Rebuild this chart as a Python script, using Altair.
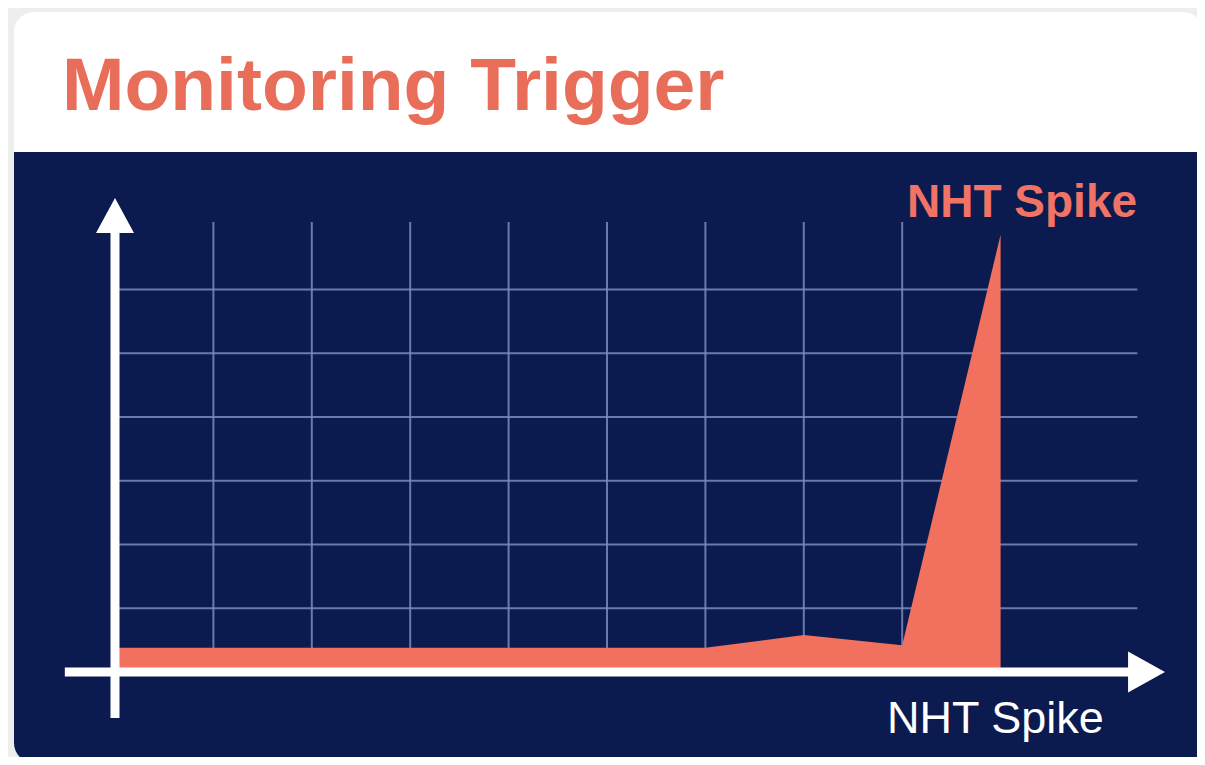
import altair as alt
import pandas as pd

# ---- data ----
steps = [0, 1, 2, 3, 4, 5, 6, 7, 8, 9, 9]
trigger = [0.38, 0.38, 0.38, 0.38, 0.38, 0.38, 0.38, 0.58, 0.42, 6.86, 0.0]
hgrid_levels = [1, 2, 3, 4, 5, 6]
vgrid_steps = [1, 2, 3, 4, 5, 6, 7, 8]
title_text = "Monitoring Trigger"
spike_label = "NHT Spike"
axis_label = "NHT Spike"

# ---- colours ----
NAVY = "#0b1b4f"
CORAL = "#f2705e"
TITLE = "#e96e5a"
GRID = "#7d8bbb"

W, H = 1189, 749
xs = alt.Scale(domain=[-1.0874, 10.99593], nice=False, zero=False)
ys = alt.Scale(domain=[-1.3333, 10.4157], nice=False, zero=False)

one = pd.DataFrame({"a": [0]})

card = alt.Chart(one).mark_rect(color="white", cornerRadius=20).encode(
    x=alt.value(6), x2=alt.value(1195), y=alt.value(4), y2=alt.value(220)
)
panel = alt.Chart(one).mark_rect(color=NAVY, cornerRadiusBottomLeft=20).encode(
    x=alt.value(6), x2=alt.value(1195), y=alt.value(144), y2=alt.value(755)
)

hgrid = alt.Chart(pd.DataFrame({"v": hgrid_levels, "x0": 0.0, "x1": 10.39})).mark_rule(
    color=GRID, strokeWidth=2, opacity=0.85
).encode(
    x=alt.X("x0:Q", scale=xs, axis=None),
    x2="x1:Q",
    y=alt.Y("v:Q", scale=ys, axis=None),
)
vgrid = alt.Chart(pd.DataFrame({"i": vgrid_steps, "y0": 0.0, "y1": 7.06})).mark_rule(
    color=GRID, strokeWidth=2, opacity=0.85
).encode(
    x=alt.X("i:Q", scale=xs, axis=None),
    y=alt.Y("y0:Q", scale=ys, axis=None),
    y2="y1:Q",
)

df = pd.DataFrame({"step": steps, "val": trigger})
area = alt.Chart(df).mark_area(color=CORAL, opacity=1, interpolate="linear").encode(
    x=alt.X("step:Q", scale=xs, axis=None),
    y=alt.Y("val:Q", scale=ys, axis=None),
)

yaxis = alt.Chart(pd.DataFrame({"i": [0.0], "a": [-0.72], "b": [6.92]})).mark_rule(
    color="white", strokeWidth=9
).encode(x=alt.X("i:Q", scale=xs, axis=None), y=alt.Y("a:Q", scale=ys, axis=None), y2="b:Q")
xaxis = alt.Chart(pd.DataFrame({"v": [0.0], "a": [-0.51], "b": [10.32]})).mark_rule(
    color="white", strokeWidth=9
).encode(y=alt.Y("v:Q", scale=ys, axis=None), x=alt.X("a:Q", scale=xs, axis=None), x2="b:Q")

up = alt.Chart(pd.DataFrame({"i": [0.0], "v": [7.16]})).mark_point(
    shape="M0,-0.92L-1,0.92L1,0.92Z", filled=True, color="white", opacity=1, size=1444
).encode(x=alt.X("i:Q", scale=xs, axis=None), y=alt.Y("v:Q", scale=ys, axis=None))
right = alt.Chart(pd.DataFrame({"i": [10.483], "v": [0.0]})).mark_point(
    shape="M0.9,0L-0.9,-1L-0.9,1Z", filled=True, color="white", opacity=1, size=1681
).encode(x=alt.X("i:Q", scale=xs, axis=None), y=alt.Y("v:Q", scale=ys, axis=None))

title = alt.Chart(pd.DataFrame({"t": [title_text]})).mark_text(
    font="Liberation Sans", fontSize=75, fontWeight="bold", color=TITLE,
    align="left", baseline="alphabetic"
).encode(text="t:N", x=alt.value(54), y=alt.value(102))

spike = alt.Chart(pd.DataFrame({"t": [spike_label]})).mark_text(
    font="Liberation Sans", fontSize=46, fontWeight="bold", color="#f07366",
    align="left", baseline="alphabetic"
).encode(text="t:N", x=alt.value(899), y=alt.value(209))

xlab = alt.Chart(pd.DataFrame({"t": [axis_label]})).mark_text(
    font="Liberation Sans", fontSize=45, color="white",
    align="left", baseline="alphabetic"
).encode(text="t:N", x=alt.value(879), y=alt.value(725))

chart = alt.layer(
    card, panel, hgrid, vgrid, area, yaxis, xaxis, up, right, title, spike, xlab
).properties(
    width=W, height=H, background="#eeeeec", padding=0,
    autosize=alt.AutoSizeParams(type="none"),
).configure_view(strokeWidth=0)

chart.save("out.html", embed_options={"renderer": "svg", "actions": False})
